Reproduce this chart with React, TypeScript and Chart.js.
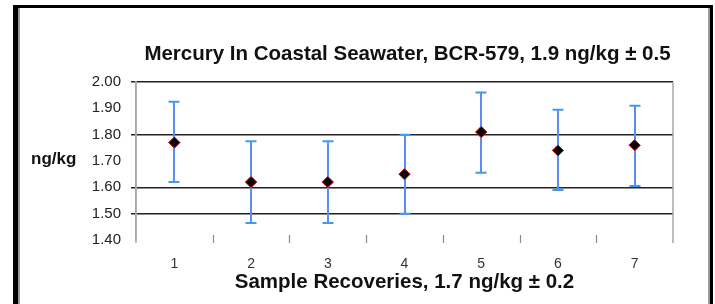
import React, { useEffect, useRef } from "react";
import { Chart, registerables } from "chart.js";

Chart.register(...registerables);

const categories = ["1", "2", "3", "4", "5", "6", "7"];
const means = [1.77, 1.62, 1.62, 1.65, 1.81, 1.74, 1.76];
const highs = [1.925, 1.775, 1.775, 1.8, 1.96, 1.895, 1.91];
const lows = [1.62, 1.465, 1.465, 1.5, 1.655, 1.59, 1.605];
const yTicks = [1.4, 1.5, 1.6, 1.7, 1.8, 1.9, 2.0];
const gridShown = [2.0, 1.8, 1.6, 1.5];

const titleText = "Mercury In Coastal Seawater, BCR-579, 1.9 ng/kg \u00b1 0.5";
const xTitleText = "Sample Recoveries, 1.7 ng/kg \u00b1 0.2";
const yTitleText = "ng/kg";

const FONT = "Arial, 'Liberation Sans', sans-serif";

const decorPlugin = {
  id: "decor",
  beforeDraw(chart: any) {
    const ctx = chart.ctx;
    ctx.save();
    ctx.fillStyle = "#ffffff";
    ctx.fillRect(0, 0, chart.width, chart.height);
    // outer frame
    ctx.fillStyle = "#000000";
    ctx.fillRect(13, 5, 700, 3);
    ctx.fillRect(13, 5, 5, 299);
    ctx.fillRect(710, 5, 3, 299);
    ctx.fillStyle = "#9a9a9a";
    ctx.fillRect(18, 8, 2, 296);
    ctx.fillRect(708, 8, 2, 296);
    ctx.restore();
  },
  afterDraw(chart: any) {
    const ctx = chart.ctx;
    const { left, right, top, bottom } = chart.chartArea;
    const xs = chart.scales.x;
    ctx.save();
    ctx.strokeStyle = "#a8a8a8";
    ctx.lineWidth = 1.5;
    ctx.beginPath();
    ctx.moveTo(right, top);
    ctx.lineTo(right, bottom + 3);
    ctx.moveTo(left, top);
    ctx.lineTo(left, bottom + 3);
    ctx.stroke();
    // category separator ticks
    ctx.strokeStyle = "#8a8a8a";
    ctx.lineWidth = 1.2;
    for (let i = 0; i < categories.length - 1; i++) {
      const px = Math.round(xs.getPixelForValue(i + 0.5)) + 0.5;
      ctx.beginPath();
      ctx.moveTo(px, bottom - 5);
      ctx.lineTo(px, bottom + 3);
      ctx.stroke();
    }
    // titles
    ctx.fillStyle = "#111111";
    ctx.textAlign = "center";
    ctx.textBaseline = "alphabetic";
    ctx.font = `bold 20.5px ${FONT}`;
    ctx.fillText(titleText, (left + right) / 2 + 3, 60);
    ctx.font = `bold 20.5px ${FONT}`;
    ctx.fillText(xTitleText, (left + right) / 2, 288);
    ctx.textAlign = "left";
    ctx.font = `bold 17px ${FONT}`;
    ctx.fillText(yTitleText, 31, 164);
    ctx.restore();
  },
};

const errorBarPlugin = {
  id: "errorBars",
  afterDatasetsDraw(chart: any) {
    const ctx = chart.ctx;
    const xs = chart.scales.x;
    const ys = chart.scales.y;
    ctx.save();
    for (let i = 0; i < categories.length; i++) {
      const px = Math.round(xs.getPixelForValue(i));
      const yHi = ys.getPixelForValue(highs[i]);
      const yLo = ys.getPixelForValue(lows[i]);
      ctx.strokeStyle = "#5b8ef5";
      ctx.lineWidth = 2;
      ctx.beginPath();
      ctx.moveTo(px, yHi);
      ctx.lineTo(px, yLo);
      ctx.stroke();
      ctx.strokeStyle = "#3a9cf5";
      ctx.beginPath();
      ctx.moveTo(px - 5.5, yHi);
      ctx.lineTo(px + 5.5, yHi);
      ctx.moveTo(px - 5.5, yLo);
      ctx.lineTo(px + 5.5, yLo);
      ctx.stroke();
    }
    ctx.restore();
    const meta = chart.getDatasetMeta(0);
    meta.controller.draw();
  },
};

export default function App() {
  const canvasRef = useRef<HTMLCanvasElement | null>(null);

  useEffect(() => {
    const canvas = canvasRef.current;
    if (!canvas) return;
    const chart = new Chart(canvas, {
      type: "line",
      data: {
        labels: categories,
        datasets: [
          {
            data: means,
            showLine: false,
            pointStyle: "rectRot",
            pointRadius: 5.5,
            pointBackgroundColor: "#000000",
            pointBorderColor: "#d01010",
            pointBorderWidth: 1,
          },
        ],
      },
      options: {
        responsive: false,
        animation: false,
        events: [],
        layout: { padding: { top: 82, left: 0, right: 42, bottom: 0 } },
        plugins: {
          legend: { display: false },
          title: { display: false },
          tooltip: { enabled: false },
        },
        scales: {
          x: {
            type: "category",
            offset: true,
            grid: { display: false, drawTicks: false },
            border: { display: false },
            ticks: {
              padding: 16,
              color: "#333333",
              font: { family: FONT, size: 14 },
              maxRotation: 0,
            },
            afterFit(scale: any) {
              scale.height = 64;
            },
          },
          y: {
            min: 1.4,
            max: 2.0,
            afterBuildTicks(scale: any) {
              scale.ticks = yTicks.map((v) => ({ value: v }));
            },
            grid: {
              color: (c: any) =>
                gridShown.some((g) => Math.abs(g - c.tick.value) < 1e-6)
                  ? "#222222"
                  : "rgba(0,0,0,0)",
              lineWidth: 1.5,
              tickLength: 5,
            },
            border: { display: true, color: "#a8a8a8", width: 1.5 },
            ticks: {
              padding: 10,
              color: "#222222",
              font: { family: FONT, size: 15 },
              callback: (v: any) => Number(v).toFixed(2),
            },
            afterFit(scale: any) {
              scale.width = 136;
            },
          },
        },
      },
      plugins: [decorPlugin, errorBarPlugin],
    } as any);
    return () => chart.destroy();
  }, []);

  return (
    <div style={{ position: "fixed", left: 0, top: 0, width: 715, height: 304 }}>
      <canvas ref={canvasRef} width={715} height={304} style={{ display: "block" }} />
    </div>
  );
}
